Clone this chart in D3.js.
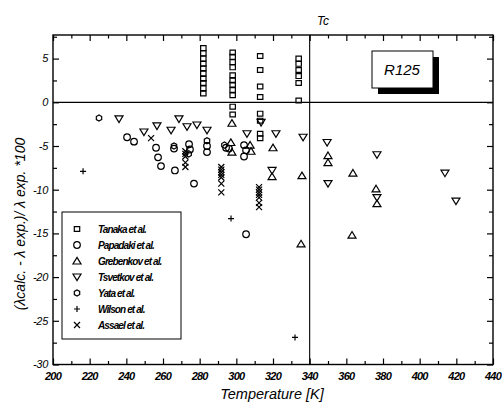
<!DOCTYPE html>
<html>
<head>
<meta charset="utf-8">
<script src="https://cdn.jsdelivr.net/npm/d3@7"></script>
<style>
  body { margin: 0; background: #fff; }
  svg { display: block; font-family: "Liberation Sans", Arial, sans-serif; font-style: italic; }
</style>
</head>
<body>
<svg id="chart" width="502" height="413"></svg>
<script>
// data: [temperature K, deviation %]
const tanaka = [
  [282, 6.2], [282, 5.6], [282, 5.0], [282, 4.4], [282, 3.9], [282, 3.3], [282, 2.7], [282, 2.2], [282, 1.6], [282, 1.0],
  [298, 5.7], [298, 5.2], [298, 4.6], [298, 4.0], [298, 3.1], [298, 2.5], [298, 2.0], [298, 1.4], [298, 0.8], [298, -0.5], [298, -1.4],
  [313, 5.3], [313, 3.7], [313, 1.8], [313, 0.6], [313, -1.3], [313, -2.1], [313, -3.6], [313, -4.1],
  [334, 5.0], [334, 4.4], [334, 3.7], [334, 3.0], [334, 2.2], [334, 0.2]
];
const papadaki = [
  [240.4, -4.0], [244.2, -4.5], [256.2, -5.2], [257.3, -6.3], [258.9, -7.3], [266, -5.3], [266.5, -7.8],
  [274.2, -4.8], [274.7, -5.4], [276.9, -9.3], [284, -5.0], [284, -5.7], [294.4, -5.2], [296, -5.3],
  [304.2, -4.9], [305.3, -5.5], [304.2, -6.2], [305.3, -15.1]
];
const grebenkov = [
  [297.6, -2.4], [297, -4.6], [297.6, -5.7], [307.5, -4.9], [308, -5.6], [320, -5.2], [319.5, -8.5],
  [335.8, -8.4], [335.3, -16.2], [350, -6.1], [350, -6.9], [363.6, -8.1], [376.2, -9.9], [376.7, -11.6],
  [363.1, -15.2]
];
const tsvetkov = [
  [236, -1.9], [249.6, -3.4], [256.7, -2.7], [264.4, -3.2], [268.7, -1.9], [273.1, -2.8], [278.5, -2.6],
  [284, -3.2], [305.8, -3.6], [313.5, -2.3], [321.6, -3.6], [319.5, -7.8], [336.4, -4.0], [349.5, -4.6],
  [350, -9.3], [376.7, -6.0], [376.7, -10.9], [413.8, -8.1], [419.8, -11.3]
];
const yata = [[225.1, -1.8], [284, -4.4], [266, -5.0], [274, -5.9], [293.5, -4.9]];
const wilson = [[216.4, -7.9], [297.1, -13.3], [332, -26.9]];
const assael = [
  [253.5, -4.1],
  [272.2, -5.6], [272.2, -5.9], [272.2, -6.2], [272.2, -6.9], [272.2, -7.4],
  [291.8, -7.4], [291.8, -7.7], [291.8, -8.0], [291.8, -8.3], [291.8, -8.6], [291.8, -9.3], [291.8, -10.3],
  [312.4, -9.7], [312.4, -10.0], [312.4, -10.3], [312.4, -10.6], [312.4, -10.9], [312.4, -11.5], [312.4, -12.0]
];

const seriesNames = ["Tanaka et al.", "Papadaki et al.", "Grebenkov et al.", "Tsvetkov et al.", "Yata et al.", "Wilson et al.", "Assael et al."];
const seriesShapes = ["square", "circle", "triUp", "triDown", "hex", "plus", "cross"];
const seriesData = [tanaka, papadaki, grebenkov, tsvetkov, yata, wilson, assael];

const xTickValues = [200, 220, 240, 260, 280, 300, 320, 340, 360, 380, 400, 420, 440];
const yTickValues = [5, 0, -5, -10, -15, -20, -25, -30];
const tcTemp = 340;

const svg = d3.select("#chart");

const x = d3.scaleLinear().domain([200, 440]).range([53, 493]);
const y = d3.scaleLinear().domain([-30, 7.7]).range([364.5, 35]);

// frame + inward ticks
const frame = svg.append("g").attr("stroke", "#000").attr("fill", "none");

const minorX = d3.range(210, 440, 20);
const minorY = d3.range(-27.5, 7.6, 5);

frame.append("g").attr("transform", `translate(0,${y(-30)})`)
  .call(d3.axisBottom(x).tickValues(xTickValues).tickSize(-6).tickFormat(""))
  .call(g => g.select(".domain").remove());
frame.append("g").attr("transform", `translate(0,${y(-30)})`)
  .call(d3.axisBottom(x).tickValues(minorX).tickSize(-3.5).tickFormat(""))
  .call(g => g.select(".domain").remove());
frame.append("g").attr("transform", `translate(0,${y(7.7)})`)
  .call(d3.axisTop(x).tickValues(xTickValues).tickSize(-6).tickFormat(""))
  .call(g => g.select(".domain").remove());
frame.append("g").attr("transform", `translate(0,${y(7.7)})`)
  .call(d3.axisTop(x).tickValues(minorX).tickSize(-3.5).tickFormat(""))
  .call(g => g.select(".domain").remove());
frame.append("g").attr("transform", `translate(${x(200)},0)`)
  .call(d3.axisLeft(y).tickValues(yTickValues).tickSize(-6).tickFormat(""))
  .call(g => g.select(".domain").remove());
frame.append("g").attr("transform", `translate(${x(200)},0)`)
  .call(d3.axisLeft(y).tickValues(minorY).tickSize(-4).tickFormat(""))
  .call(g => g.select(".domain").remove());
frame.append("g").attr("transform", `translate(${x(440)},0)`)
  .call(d3.axisRight(y).tickValues(yTickValues).tickSize(-6).tickFormat(""))
  .call(g => g.select(".domain").remove());
frame.append("g").attr("transform", `translate(${x(440)},0)`)
  .call(d3.axisRight(y).tickValues(minorY).tickSize(-4).tickFormat(""))
  .call(g => g.select(".domain").remove());
frame.selectAll("line").attr("stroke-width", 1.2);

frame.append("rect")
  .attr("x", x(200)).attr("y", y(7.7))
  .attr("width", x(440) - x(200)).attr("height", y(-30) - y(7.7))
  .attr("stroke-width", 1.4);

// zero line and Tc line
frame.append("line")
  .attr("x1", x(200)).attr("x2", x(440)).attr("y1", y(0)).attr("y2", y(0))
  .attr("stroke-width", 1.2);
frame.append("line")
  .attr("x1", x(tcTemp)).attr("x2", x(tcTemp)).attr("y1", y(7.7)).attr("y2", y(-30))
  .attr("stroke-width", 1.1);

// tick labels
svg.append("g").selectAll("text").data(xTickValues).join("text")
  .attr("x", d => x(d)).attr("y", 380)
  .attr("text-anchor", "middle").attr("font-size", 11).attr("font-weight", "bold").attr("letter-spacing", -0.8)
  .text(d => d);
svg.append("g").selectAll("text").data(yTickValues).join("text")
  .attr("x", 48).attr("y", d => y(d)).attr("dy", "0.35em")
  .attr("text-anchor", "end").attr("font-size", 11).attr("letter-spacing", -0.3)
  .text(d => d);

// axis titles
svg.append("text")
  .attr("x", 272).attr("y", 399).attr("text-anchor", "middle").attr("font-size", 14.5)
  .text("Temperature [K]");
svg.append("text")
  .attr("transform", "translate(25,224) rotate(-90)")
  .attr("text-anchor", "middle").attr("font-size", 14)
  .text("(λcalc. - λ exp.)/ λ exp. *100");
svg.append("text")
  .attr("x", 323).attr("y", 25).attr("text-anchor", "middle").attr("font-size", 12)
  .text("Tc");

// R125 label box with shadow
svg.append("rect").attr("x", 378).attr("y", 57).attr("width", 61).attr("height", 37).attr("fill", "#000");
svg.append("rect").attr("x", 372).attr("y", 51).attr("width", 61).attr("height", 37)
  .attr("fill", "#fff").attr("stroke", "#000").attr("stroke-width", 1);
svg.append("text").attr("x", 402).attr("y", 75).attr("text-anchor", "middle").attr("font-size", 15)
  .text("R125");

// markers
function marker(g, shape, cx, cy) {
  const p = g.append("path").attr("fill", "none").attr("stroke", "#000").attr("stroke-width", 1.2);
  if (shape === "square") p.attr("d", `M${cx - 2.7},${cy - 2.4}h5.4v4.8h-5.4Z`);
  else if (shape === "circle") p.attr("d", d3.arc()({ innerRadius: 0, outerRadius: 3.3, startAngle: 0, endAngle: 2 * Math.PI })).attr("transform", `translate(${cx},${cy})`);
  else if (shape === "triUp") p.attr("d", `M${cx},${cy - 3.6}L${cx + 4},${cy + 3}L${cx - 4},${cy + 3}Z`);
  else if (shape === "triDown") p.attr("d", `M${cx - 4},${cy - 3}L${cx + 4},${cy - 3}L${cx},${cy + 3.6}Z`);
  else if (shape === "hex") {
    const pts = d3.range(6).map(i => [cx + 3.1 * Math.cos(Math.PI / 6 + i * Math.PI / 3), cy + 3.1 * Math.sin(Math.PI / 6 + i * Math.PI / 3)]);
    p.attr("d", d3.line()(pts) + "Z");
  }
  else if (shape === "plus") p.attr("d", `M${cx - 3},${cy}h6M${cx},${cy - 3}v6`);
  else if (shape === "cross") p.attr("d", `M${cx - 3},${cy - 3}l6,6M${cx - 3},${cy + 3}l6,-6`);
}

const pointsG = svg.append("g");
seriesData.forEach((arr, i) => {
  arr.forEach(d => marker(pointsG, seriesShapes[i], x(d[0]), y(d[1])));
});

// legend
const legend = svg.append("g");
legend.append("rect").attr("x", 62).attr("y", 212).attr("width", 119).attr("height", 127)
  .attr("fill", "#fff").attr("stroke", "#000").attr("stroke-width", 1);
seriesNames.forEach((name, i) => {
  const ly = 229 + i * 16;
  marker(legend, seriesShapes[i], 77, ly);
  legend.append("text").attr("x", 98).attr("y", ly).attr("dy", "0.35em")
    .attr("font-size", 10).attr("font-weight", "bold").attr("letter-spacing", -0.9).text(name);
});
</script>
</body>
</html>
